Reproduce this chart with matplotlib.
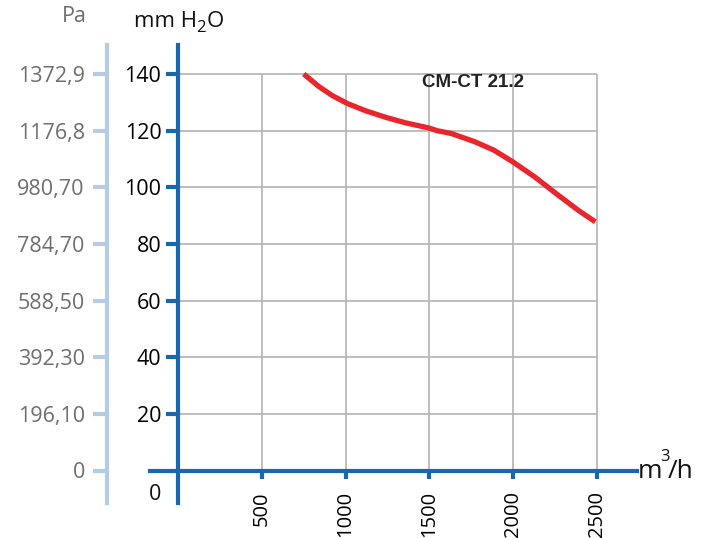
import numpy as np
import matplotlib
matplotlib.use('Agg')
import matplotlib.pyplot as plt

# flow m3/h vs pressure mm H2O
flow=[750,840,920,1010,1120,1240,1355,1500,1545,1630,1770,1885,2000,2130,2260,2390,2490]
press=[140,135.6,132.4,129.6,127.0,124.7,122.8,120.9,120.0,119.0,116.1,113.1,108.9,103.6,97.6,91.8,87.8]

xticks=[500,1000,1500,2000,2500]
yticks=[20,40,60,80,100,120,140]
pa_ticks=[0,20,40,60,80,100,120,140]
pa_labels=['0','196,10','392,30','588,50','784,70','980,70','1176,8','1372,9']
title='CM-CT 21.2'

W,H=715,538
blue='#1a67b1'
light='#b5cce6'
grey='#b3b3b3'
plt.rcParams['font.family']=['Open Sans','DejaVu Sans']

fig=plt.figure(figsize=(W/100,H/100),dpi=100)

# pixel layout: x=0 at px 178, 2500 at px 597; y=0 at px 470.5, 140 at px 74
sx=(597-178)/2500
sy=(470.5-74)/140
x0,x1=-(178-150)/sx,(637-178)/sx
y0,y1=-(503-470.5)/sy,(470.5-45)/sy
ax=fig.add_axes([150/W,(H-503)/H,(637-150)/W,(503-45)/H])
ax.set_xlim(x0,x1)
ax.set_ylim(y0,y1)
ax.patch.set_alpha(0)

ax.vlines(xticks,0,140,color=grey,lw=1.2,zorder=1)
ax.hlines(yticks,0,2500,color=grey,lw=1.2,zorder=1)

ax.plot(flow,press,color='#e8262c',lw=3.8,solid_joinstyle='round',solid_capstyle='butt',zorder=3)

for s in ['top','right']:
    ax.spines[s].set_visible(False)
for s in ['left','bottom']:
    ax.spines[s].set_position(('data',0))
    ax.spines[s].set_color(blue)
    ax.spines[s].set_linewidth(3)
    ax.spines[s].set_zorder(4)
ax.set_xticks(xticks)
ax.set_xticklabels([str(v) for v in xticks],rotation=90,fontsize=14.5)
ax.set_yticks(yticks)
ax.set_yticklabels([str(v) for v in yticks],fontsize=15.5)
ax.tick_params(axis='y',direction='out',length=9,width=3,color=blue,pad=3)
ax.tick_params(axis='x',direction='out',length=6,width=3,color=blue,pad=9)

ax.text(1760,137,title,fontsize=13.5,fontweight='bold',family='Liberation Sans',
        ha='center',va='center',color='#222222')

# Pa scale on the left
ax2=fig.add_axes([107/W,(H-503)/H,0.001,(503-45)/H])
ax2.set_ylim(y0,y1)
ax2.patch.set_alpha(0)
for s in ['top','right','bottom']:
    ax2.spines[s].set_visible(False)
ax2.spines['left'].set_color(light)
ax2.spines['left'].set_linewidth(3)
ax2.set_xticks([])
ax2.set_yticks(pa_ticks)
ax2.set_yticklabels(pa_labels,fontsize=15.5,color='#6d6e70')
ax2.tick_params(axis='y',direction='out',length=10,width=3,color=light,pad=6)

fig.text(74/W,1-17/H,'Pa',fontsize=15.5,color='#6d6e70',ha='center',va='center')
fig.text(134/W,1-27/H,'mm H',fontsize=16,color='#111111',ha='left',va='baseline')
fig.text(196/W,1-32/H,'2',fontsize=12,color='#111111',ha='left',va='baseline')
fig.text(207/W,1-27/H,'O',fontsize=16,color='#111111',ha='left',va='baseline')
fig.text(155/W,1-494/H,'0',fontsize=15.5,color='#111111',ha='center',va='center')
fig.text(638/W,1-478/H,'m',fontsize=19,color='#111111',ha='left',va='baseline')
fig.text(660/W,1-461/H,'3',fontsize=12,color='#111111',ha='left',va='baseline')
fig.text(668/W,1-478/H,'/h',fontsize=19,color='#111111',ha='left',va='baseline')

fig.savefig('out.png',dpi=100)
